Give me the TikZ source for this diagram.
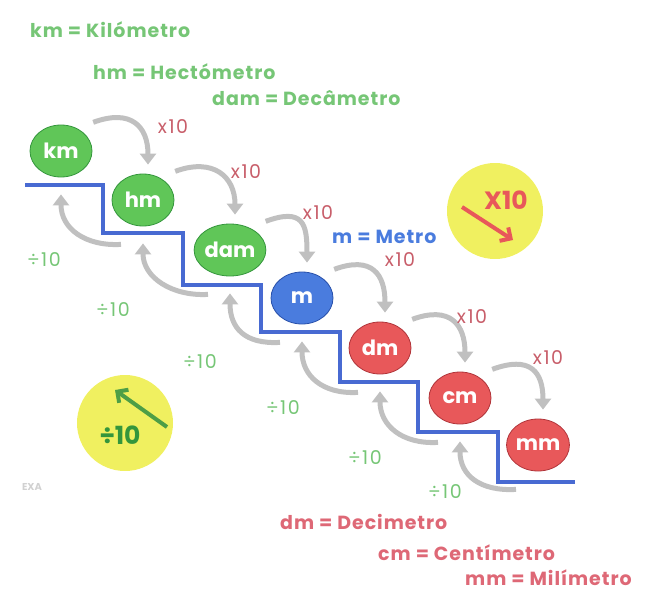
\documentclass[tikz,border=0pt]{standalone}
\usepackage{fontspec}
\setmainfont{Poppins}
\usepackage{tikz}
\usepackage{xcolor}
\usetikzlibrary{shapes.geometric, arrows.meta}
\definecolor{mgreen}{RGB}{96, 198, 88}
\definecolor{mgreendark}{RGB}{52, 150, 60}
\definecolor{mgreentext}{RGB}{118, 198, 118}
\definecolor{mblue}{RGB}{74, 124, 222}
\definecolor{mbluedark}{RGB}{40, 80, 170}
\definecolor{mred}{RGB}{232, 88, 90}
\definecolor{mreddark}{RGB}{176, 52, 58}
\definecolor{mredtext}{RGB}{222, 104, 118}
\definecolor{mgray}{RGB}{192, 192, 192}
\definecolor{myellow}{RGB}{240, 240, 96}
\definecolor{mstair}{RGB}{72, 106, 210}
\tikzset{
    unitnode/.style={ellipse, draw, thick, minimum width=62pt, minimum height=52pt, inner sep=0pt, text=white, font=\fontsize{21}{21}\selectfont\bfseries},
    greenunit/.style={unitnode, fill=mgreen, draw=mgreendark},
    blueunit/.style={unitnode, fill=mblue, draw=mbluedark},
    redunit/.style={unitnode, fill=mred, draw=mreddark},
    legend/.style={anchor=west, inner sep=0pt, font=\fontsize{19}{19}\selectfont\bfseries\addfontfeatures{LetterSpace=5}},
    timesarrow/.style={draw=mgray, line width=5pt, -{Triangle[length=11pt, width=16pt]}},
    divarrow/.style={timesarrow},
    timeslabel/.style={text=mredtext!90!black, font=\fontsize{19}{19}\selectfont\addfontfeatures{LetterSpace=8}},
    divlabel/.style={text=mgreentext, font=\fontsize{19}{19}\selectfont\addfontfeatures{LetterSpace=8}},
    badge/.style={circle, fill=myellow, minimum size=96pt, inner sep=0pt},
    badgetext/.style={font=\fontsize{25}{25}\selectfont\bfseries},
    stair/.style={draw=mstair, line width=4pt}
}
\begin{document}
\begin{tikzpicture}[x=1pt, y=-1pt]
    \useasboundingbox (0,0) rectangle (647,592);

    \node[legend, text=mgreentext] (kmtext) at (30,30) {km = Kilómetro};
    \node[legend, text=mgreentext] (hmtext) at (93,72) {hm = Hectómetro};
    \node[legend, text=mgreentext] (damtext) at (212,98) {dam = Decâmetro};
    \node[legend, text=mblue] (mtext) at (332,237) {m = Metro};
    \node[legend, text=mredtext] (dmtext) at (280,522) {dm = Decimetro};
    \node[legend, text=mredtext] (cmtext) at (378,553) {cm = Centímetro};
    \node[legend, text=mredtext] (mmtext) at (465,578) {mm = Milímetro};

    \draw[stair] (25,185) -| (103,233) -| (183,285) -| (261,332) -| (340,382) -| (418,432) -| (498,482) -- (575,482);

    \node[greenunit] (km) at (61,151) {km};
    \node[greenunit] (hm) at (143,200) {hm};
    \node[greenunit] (dam) at (230,250) {dam};
    \node[blueunit] (m) at (302,298) {m};
    \node[redunit] (dm) at (380,348) {dm};
    \node[redunit] (cm) at (460,398) {cm};
    \node[redunit] (mm) at (538,445) {mm};

    \foreach \a/\b/\lx/\ly/\dx/\dy in {km/hm/173/127/44/260, hm/dam/246/172/113/310, dam/m/318/213/200/362, m/dm/400/260/283/408, dm/cm/472/317/365/458, cm/mm/548/358/445/492} {
        \draw[timesarrow] ([shift={(10,-10)}]\a.north east) .. controls +(38,-14) and +(0,-38) .. ([shift={(5,-9)}]\b.north);
        \draw[divarrow] ([shift={(-22,18)}]\b.south) .. controls +(-36,2) and +(0,34) .. ([shift={(0,17)}]\a.south);
        \node[timeslabel] at (\lx,\ly) {x10};
        \node[divlabel] at (\dx,\dy) {÷10};
    }

    \node[badge] (mulbadge) at (495,211) {};
    \node[badgetext, text=mred] (multext) at (506,200) {X10};
    \coordinate (mulfrom) at (462,207);
    \coordinate (multo) at (513,240);
    \draw[draw=mred, line width=4pt, -{Straight Barb[length=8pt, width=16pt]}] (mulfrom) -- (multo);

    \node[badge] (divbadge) at (125,423) {};
    \node[badgetext, text=mgreendark] (divtext) at (120,435) {÷10};
    \coordinate (divfrom) at (167,427);
    \coordinate (divto) at (115,390);
    \draw[draw=mgreen!80!black, line width=4pt, -{Straight Barb[length=8pt, width=16pt]}] (divfrom) -- (divto);

    \node[text=black!18, font=\fontsize{10}{10}\selectfont\bfseries] (mark) at (32,487) {EXA};
\end{tikzpicture}
\end{document}
